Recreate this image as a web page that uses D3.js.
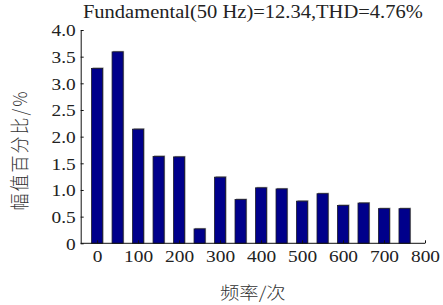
<!DOCTYPE html>
<html>
<head>
<meta charset="utf-8">
<script src="https://cdn.jsdelivr.net/npm/d3@7"></script>
<style>
  body { margin: 0; background: #fff; }
  svg { display: block; }
  .serif { font-family: 'Liberation Serif', 'Times New Roman', 'DejaVu Serif', serif; }
  .cjk { font-family: 'Noto Sans CJK SC', sans-serif; }
</style>
</head>
<body>
<div id="chart"></div>
<script>
// harmonic spectrum (frequency in Hz, amplitude in % of fundamental)
const freqs = [0, 50, 100, 150, 200, 250, 300, 350, 400, 450, 500, 550, 600, 650, 700, 750];
const amps = [3.28, 3.59, 2.14, 1.63, 1.62, 0.27, 1.24, 0.82, 1.04, 1.02, 0.79, 0.93, 0.71, 0.755, 0.65, 0.65];
const xTicks = [0, 100, 200, 300, 400, 500, 600, 700, 800];
const yTicks = [0, 0.5, 1.0, 1.5, 2.0, 2.5, 3.0, 3.5, 4.0];
const titleText = 'Fundamental(50 Hz)=12.34,THD=4.76%';

const width = 443, height = 305;
const margin = { top: 30, right: 18, bottom: 61.7, left: 80.7 };
const sx = 1.14; // text in the figure is slightly stretched horizontally
const ink = '#222';

const svg = d3.select('#chart').append('svg')
  .attr('width', width)
  .attr('height', height);

const x = d3.scaleLinear().domain([-40, 800]).range([margin.left, width - margin.right]);
const y = d3.scaleLinear().domain([0, 4]).range([height - margin.bottom, margin.top]);
const barW = x(27) - x(0);

// bars: gray shadow then navy body
const bars = svg.append('g');
bars.selectAll('rect.shadow')
  .data(freqs)
  .join('rect')
  .attr('class', 'shadow')
  .attr('x', d => x(d) - barW / 2 + 1)
  .attr('y', (d, i) => y(amps[i]) - 1)
  .attr('width', barW)
  .attr('height', (d, i) => y(0) - y(amps[i]) + 1)
  .attr('fill', '#9a9a9a');
bars.selectAll('rect.bar')
  .data(freqs)
  .join('rect')
  .attr('class', 'bar')
  .attr('x', d => x(d) - barW / 2)
  .attr('y', (d, i) => y(amps[i]))
  .attr('width', barW)
  .attr('height', (d, i) => y(0) - y(amps[i]))
  .attr('fill', '#00008b')
  .attr('stroke', '#1a1a2a')
  .attr('stroke-width', 0.8);

// axes, ticks inside
const xAxis = svg.append('g')
  .attr('transform', `translate(0,${y(0)})`)
  .call(d3.axisBottom(x).tickValues(xTicks).tickSizeInner(-3).tickSizeOuter(0).tickFormat(d3.format('d')));
xAxis.select('.domain').attr('d', `M${x(-40)},0H${x(800)}`);
xAxis.attr('font-family', null).attr('font-size', null);
xAxis.selectAll('text')
  .attr('class', 'serif')
  .attr('y', 0).attr('dy', 0)
  .attr('transform', `translate(0,19) scale(${sx},1)`)
  .style('font-size', '17px').attr('fill', ink);

const yAxis = svg.append('g')
  .attr('transform', `translate(${x(-40)},0)`)
  .call(d3.axisLeft(y).tickValues(yTicks).tickSizeInner(-3).tickSizeOuter(0)
    .tickFormat(d => d === 0 ? '0' : d3.format('.1f')(d)));
yAxis.attr('font-family', null).attr('font-size', null);
yAxis.selectAll('text')
  .attr('class', 'serif')
  .attr('x', 0).attr('dy', '0.34em')
  .attr('transform', `translate(-5,0) scale(${sx},1)`)
  .style('font-size', '17px').attr('fill', ink);

svg.selectAll('.domain, .tick line').attr('stroke', '#111').attr('stroke-width', 1);

// title
svg.append('text')
  .attr('class', 'serif')
  .attr('transform', `translate(${(x(-40) + x(800)) / 2},18) scale(${sx},1)`)
  .attr('text-anchor', 'middle')
  .style('font-size', '18px')
  .attr('fill', ink)
  .text(titleText);

// axis labels
svg.append('text')
  .attr('class', 'cjk')
  .attr('transform', `translate(${(x(-40) + x(800)) / 2},299) scale(${sx},1)`)
  .attr('text-anchor', 'middle')
  .style('font-size', '17px')
  .style('font-weight', 300)
  .attr('fill', '#333')
  .text('频率/次');

svg.append('text')
  .attr('class', 'cjk')
  .attr('transform', `translate(27,150) rotate(-90) scale(1,${sx})`)
  .attr('text-anchor', 'middle')
  .style('font-size', '17px')
  .style('font-weight', 300)
  .style('letter-spacing', '2px')
  .attr('fill', '#333')
  .text('幅值百分比/%');
</script>
</body>
</html>
